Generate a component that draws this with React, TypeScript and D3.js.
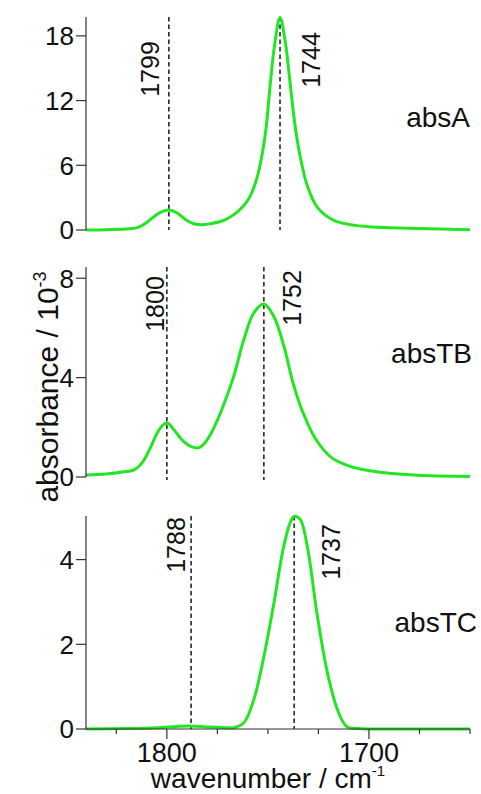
import React from "react";
import * as d3 from "d3";

// ---- data ----
const absA_wn = [1840, 1830, 1820, 1815, 1811, 1807, 1803, 1799, 1795, 1791, 1787, 1783, 1778, 1772, 1767, 1762, 1759, 1756, 1754, 1751, 1749, 1746.5, 1744, 1741.5, 1739, 1736.5, 1734, 1730.5, 1725.5, 1718, 1710, 1700, 1690, 1676, 1650];
const absA_val = [0.0, 0.03, 0.1, 0.2, 0.55, 1.15, 1.65, 1.86, 1.6, 1.0, 0.6, 0.48, 0.6, 0.88, 1.4, 2.25, 3.05, 4.45, 5.9, 9.3, 13.2, 17.4, 19.7, 17.6, 13.6, 9.6, 6.8, 4.1, 2.1, 0.95, 0.52, 0.3, 0.22, 0.15, 0.02];

const absTB_wn = [1840, 1830, 1822, 1816, 1812, 1808, 1804, 1800, 1796, 1792, 1788, 1784, 1780, 1775, 1771, 1767, 1762, 1757, 1752, 1747, 1742, 1737.5, 1732.5, 1726, 1718, 1710, 1701, 1690, 1676, 1650];
const absTB_val = [0.08, 0.12, 0.2, 0.3, 0.6, 1.2, 1.88, 2.18, 1.85, 1.45, 1.22, 1.18, 1.5, 2.28, 3.1, 4.03, 5.5, 6.6, 6.96, 6.45, 5.24, 3.77, 2.56, 1.48, 0.75, 0.45, 0.27, 0.15, 0.07, 0.02];

const absTC_wn = [1840, 1820, 1805, 1795, 1788, 1780, 1770, 1767, 1762, 1757, 1752, 1747, 1742.5, 1739, 1737, 1734, 1730.5, 1725.5, 1720.5, 1715.5, 1711, 1705, 1700, 1680, 1650];
const absTC_val = [0.0, 0.01, 0.03, 0.06, 0.07, 0.05, 0.03, 0.03, 0.14, 0.69, 1.71, 2.98, 4.24, 4.87, 5.02, 4.95, 4.31, 2.66, 1.32, 0.45, 0.06, 0.01, 0, 0, 0];

const panelNames = ["absA", "absTB", "absTC"];
const peaksA = [1799, 1744];
const peaksTB = [1800, 1752];
const peaksTC = [1788, 1737];
const yTicksA = [0, 6, 12, 18];
const yTicksTB = [0, 4, 8];
const yTicksTC = [0, 2, 4];
const yMaxA = 19.75;
const yMaxTB = 8.45;
const yMaxTC = 5.03;
const xMajorTicks = [1800, 1700];
const xMinorTicks = [1825, 1775, 1750, 1725, 1675, 1650];

// ---- layout ----
const W = 481;
const H = 794;
const X0 = 86;
const X1 = 470;
const panelLayout = [
  { top: 17, bottom: 230, labelX: 470, labelY: 127, peakLabel: [{ dx: -10, cy: 69 }, { dx: 40, cy: 60 }] },
  { top: 267, bottom: 477, labelX: 472, labelY: 363, peakLabel: [{ dx: -3, cy: 304 }, { dx: 37, cy: 298 }] },
  { top: 516, bottom: 729, labelX: 477, labelY: 632, peakLabel: [{ dx: -6, cy: 545 }, { dx: 46, cy: 552 }] },
];
const FONT = "'Liberation Sans', Arial, Helvetica, sans-serif";
const GREEN = "#22e622";
const AXIS = "#333";

export default function App() {
  const x = d3.scaleLinear().domain([1840, 1650]).range([X0, X1]);
  const series = [
    { wn: absA_wn, val: absA_val, max: yMaxA, ticks: yTicksA, peaks: peaksA },
    { wn: absTB_wn, val: absTB_val, max: yMaxTB, ticks: yTicksTB, peaks: peaksTB },
    { wn: absTC_wn, val: absTC_val, max: yMaxTC, ticks: yTicksTC, peaks: peaksTC },
  ];
  const bottomY = panelLayout[2].bottom;

  return (
    <svg width={W} height={H} style={{ position: "absolute", left: 0, top: 0, background: "#fff" }} fontFamily={FONT}>
      {series.map((s, i) => {
        const L = panelLayout[i];
        const y = d3.scaleLinear().domain([0, s.max]).range([L.bottom, L.top]);
        const pts = s.wn.map((w, k) => [w, s.val[k]] as [number, number]);
        const line = d3
          .line<[number, number]>()
          .x((d) => x(d[0]))
          .y((d) => y(d[1]))
          .curve(d3.curveCatmullRom.alpha(0.5));
        return (
          <g key={i}>
            {s.peaks.map((p, j) => (
              <line key={"d" + j} x1={x(p)} x2={x(p)} y1={L.top} y2={L.bottom + (i === 1 ? 3 : 0)} stroke="#333" strokeWidth={1.7} strokeDasharray="4.5 3" />
            ))}
            <path d={line(pts) || ""} fill="none" stroke={GREEN} strokeWidth={3} strokeLinejoin="round" />
            <line x1={X0} x2={X0} y1={L.top} y2={L.bottom} stroke={AXIS} strokeWidth={1.2} />
            {s.ticks.map((t) => (
              <g key={t}>
                <line x1={X0 - 10} x2={X0} y1={y(t)} y2={y(t)} stroke={AXIS} strokeWidth={1.2} />
                <text x={X0 - 12} y={y(t)} dy="0.36em" textAnchor="end" fontSize={26} fill="#111">
                  {t}
                </text>
              </g>
            ))}
            {s.peaks.map((p, j) => {
              const pl = L.peakLabel[j];
              return (
                <text
                  key={"l" + j}
                  transform={`translate(${x(p) + pl.dx},${pl.cy}) rotate(-90)`}
                  textAnchor="middle"
                  fontSize={25}
                  fill="#111"
                >
                  {p}
                </text>
              );
            })}
            <text x={L.labelX} y={L.labelY} textAnchor="end" fontSize={28} fill="#111">
              {panelNames[i]}
            </text>
          </g>
        );
      })}
      <line x1={X0} x2={X1} y1={bottomY} y2={bottomY} stroke={AXIS} strokeWidth={1.2} />
      {xMinorTicks.map((t) => (
        <line key={t} x1={x(t)} x2={x(t)} y1={bottomY} y2={bottomY + 5} stroke={AXIS} strokeWidth={1.2} />
      ))}
      {xMajorTicks.map((t) => (
        <g key={t}>
          <line x1={x(t)} x2={x(t)} y1={bottomY} y2={bottomY + 10} stroke={AXIS} strokeWidth={1.2} />
          <text x={x(t)} y={762} textAnchor="middle" fontSize={27} fill="#111">
            {t}
          </text>
        </g>
      ))}
      <text x={268} y={788} textAnchor="middle" fontSize={28} fill="#111">
        wavenumber / cm<tspan dy={-12} fontSize={15}>-1</tspan>
      </text>
      <text transform={`translate(58,387) rotate(-90)`} textAnchor="middle" fontSize={30} fill="#111">
        absorbance / 10<tspan dy={-12} fontSize={18}>-3</tspan>
      </text>
    </svg>
  );
}
